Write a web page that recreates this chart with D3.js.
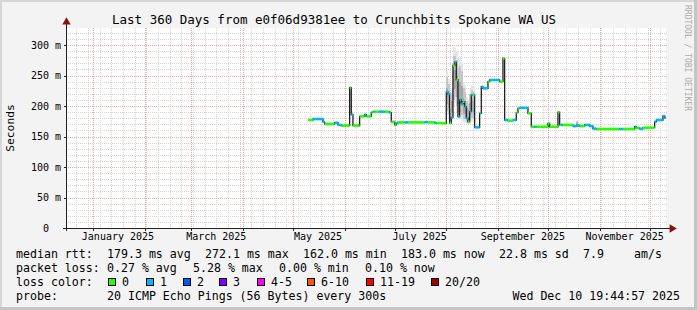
<!DOCTYPE html>
<head>
  <meta charset="utf-8">
  <script src="https://d3js.org/d3.v7.min.js"></script>
  <style>
    body { margin: 0; background: #f3f3f3; }
    text { font-family: "DejaVu Sans Mono", monospace; fill: #000; white-space: pre; }
  </style>
</head>
<body>
  <div id="graph"></div>
  <script>
    // ---- data ----
    var sampleDates = ["2025-05-10","2025-05-13","2025-05-19","2025-05-20","2025-05-26","2025-05-28","2025-05-30",
      "2025-06-04","2025-06-05","2025-06-06","2025-06-10","2025-06-13","2025-06-14","2025-06-17","2025-06-18",
      "2025-06-19","2025-06-22","2025-06-25","2025-06-28","2025-06-29","2025-07-01","2025-07-02","2025-07-03",
      "2025-07-07","2025-07-09","2025-07-19","2025-07-21","2025-07-25","2025-07-26","2025-07-30","2025-08-01",
      "2025-08-02","2025-08-03","2025-08-04","2025-08-05","2025-08-06","2025-08-07","2025-08-08","2025-08-09",
      "2025-08-10","2025-08-11","2025-08-12","2025-08-13","2025-08-14","2025-08-15","2025-08-16","2025-08-17",
      "2025-08-18","2025-08-21","2025-08-22","2025-08-23","2025-08-26","2025-08-27","2025-09-02","2025-09-04",
      "2025-09-05","2025-09-07","2025-09-10","2025-09-12","2025-09-13","2025-09-14","2025-09-19","2025-09-21",
      "2025-09-23","2025-09-24","2025-10-01","2025-10-02","2025-10-07","2025-10-08","2025-10-09","2025-10-10",
      "2025-10-16","2025-10-18","2025-10-20","2025-10-23","2025-10-26","2025-10-28","2025-10-30","2025-11-13",
      "2025-11-15","2025-11-22","2025-11-23","2025-11-25","2025-11-27","2025-12-04","2025-12-05","2025-12-09",
      "2025-12-10"];
    // median rtt in ms
    var medianRtt = [177,178.7,174,170.5,172.6,169,168,
      230,186,168,183,186,183,189.5,190.7,
      190.7,190.7,190.7,189,174,169,171.6,173,
      173,173,173.5,173,172.5,172,171.6,223,
      220,172,181,267,272,243,182.5,210,
      204,207,199,180,174,190.7,218,218,
      165,188,231.6,229,240,242.6,240,278,
      177,176,177,189,196,197,188,166,
      166,166,171.6,166,190,169,169,169,
      167,168,167,169,167,163,162.3,162.3,
      162.3,166,164,162.5,164.5,174,177,183.6,
      181];
    // lost pings out of 20
    var lossCount = [0,1,1,0,1,1,0,
      0,1,0,0,1,0,0,1,
      0,1,0,1,0,0,1,0,
      1,0,1,0,1,0,0,1,
      1,0,1,0,1,0,1,1,
      1,0,1,1,0,1,1,0,
      1,1,1,1,0,1,0,0,
      1,0,1,0,0,1,0,0,
      1,0,0,0,0,0,1,0,
      1,1,0,1,1,1,0,1,
      0,1,0,1,0,1,1,1,
      1];

    // smoke (spread of the pings) where it is visible
    var smokeDates = ["2025-08-01","2025-08-02","2025-08-03","2025-08-04","2025-08-05","2025-08-06","2025-08-07",
      "2025-08-08","2025-08-09","2025-08-10","2025-08-11","2025-08-12","2025-08-13","2025-08-14","2025-08-15",
      "2025-08-16","2025-08-17","2025-10-18"];
    var smokeLow = [185,180,172,175,200,205,190,178,180,175,172,172,170,170,172,175,172,168];
    var smokeHigh = [258,245,200,230,297,295,290,278,280,272,240,232,215,210,228,235,232,176];

    var yTicks = [0, 50, 100, 150, 200, 250, 300];

    var lossLabels = ["0", "1", "2", "3", "4-5", "6-10", "11-19", "20/20"];
    var lossColors = ["#26ff00", "#00b8ff", "#0059ff", "#7e00ff", "#ff00ff", "#ff5500", "#ff0000", "#a10000"];

    var rttLine = ["median rtt:", "179.3 ms avg", "272.1 ms max", "162.0 ms min", "183.0 ms now", "22.8 ms sd", "7.9", "am/s"];
    var lossLine = ["packet loss:", "0.27 % avg", "5.28 % max", "0.00 % min", "0.10 % now"];

    // ---- layout ----
    var width = 697, height = 310;
    var pLeft = 66, pRight = 666, pTop = 28, pBottom = 228;
    var parse = d3.timeParse("%Y-%m-%d");
    var start = new Date(2024, 11, 15, 19, 44, 57);
    var end = new Date(2025, 11, 10, 19, 44, 57);

    var svg = d3.select("#graph").append("svg")
      .attr("width", width)
      .attr("height", height);

    svg.append("rect").attr("width", width).attr("height", height).attr("fill", "#f3f3f3");
    // frame shades
    svg.append("rect").attr("x", 0).attr("y", 0).attr("width", width).attr("height", 2).attr("fill", "#d6d6d6");
    svg.append("rect").attr("x", 0).attr("y", 0).attr("width", 2).attr("height", height).attr("fill", "#d6d6d6");
    svg.append("rect").attr("x", 0).attr("y", height - 3).attr("width", width).attr("height", 3).attr("fill", "#c4c4c4");
    svg.append("rect").attr("x", width - 3).attr("y", 0).attr("width", 3).attr("height", height).attr("fill", "#c4c4c4");

    var x = d3.scaleTime().domain([start, end]).range([pLeft, pRight]);
    var y = d3.scaleLinear().domain([0, 327.87]).range([pBottom, pTop]);

    svg.append("rect").attr("x", pLeft).attr("y", pTop).attr("width", pRight - pLeft).attr("height", pBottom - pTop).attr("fill", "#fff");

    // grid
    var grid = svg.append("g").attr("shape-rendering", "crispEdges").attr("stroke-width", 1).attr("stroke-dasharray", "1,1");
    var weeks = d3.timeSunday.range(start, end);
    grid.selectAll(".vminor").data(weeks).enter().append("line")
      .attr("x1", d => Math.round(x(d)) + 0.5).attr("x2", d => Math.round(x(d)) + 0.5)
      .attr("y1", pTop).attr("y2", pBottom).attr("stroke", "#d4d4d4");
    d3.range(10, 330, 10).filter(v => v % 50).forEach(function(v) {
      grid.append("line").attr("x1", pLeft).attr("x2", pRight + 2)
        .attr("y1", Math.round(y(v)) + 0.5).attr("y2", Math.round(y(v)) + 0.5).attr("stroke", "#d4d4d4");
    });
    var months = d3.timeMonth.range(start, end);
    grid.selectAll(".vmajor").data(months).enter().append("line")
      .attr("x1", d => Math.round(x(d)) + 0.5).attr("x2", d => Math.round(x(d)) + 0.5)
      .attr("y1", pTop).attr("y2", pBottom).attr("stroke", "#f2a4a4");
    grid.selectAll(".hmajor").data(yTicks.slice(1)).enter().append("line")
      .attr("x1", pLeft).attr("x2", pRight + 2)
      .attr("y1", d => Math.round(y(d)) + 0.5).attr("y2", d => Math.round(y(d)) + 0.5)
      .attr("stroke", "#f2a4a4");

    // smoke
    var dayW = x(d3.timeDay.offset(parse("2025-08-01"), 1)) - x(parse("2025-08-01"));
    var smoke = svg.append("g").attr("shape-rendering", "crispEdges");
    smokeDates.forEach(function(d, i) {
      var x0 = x(parse(d)), lo = smokeLow[i], hi = smokeHigh[i];
      var c = x0 + dayW / 2;
      smoke.append("rect").attr("x", x0).attr("width", dayW)
        .attr("y", y(hi)).attr("height", y(lo) - y(hi)).attr("fill", "#e6e6e6");
      smoke.append("rect").attr("x", c - 1).attr("width", 2)
        .attr("y", y(lo + (hi - lo) * 0.85)).attr("height", y(lo + (hi - lo) * 0.1) - y(lo + (hi - lo) * 0.85)).attr("fill", "#c6c6c6");
      smoke.append("rect").attr("x", c - 1).attr("width", 2)
        .attr("y", y(lo + (hi - lo) * 0.6)).attr("height", y(lo + (hi - lo) * 0.25) - y(lo + (hi - lo) * 0.6)).attr("fill", "#a6a6a6");
    });

    // median line
    var pts = sampleDates.map((d, i) => ({ t: parse(d), v: medianRtt[i], loss: lossCount[i] }));
    var line = d3.line()
      .x(d => x(d.t))
      .y(d => y(d.v))
      .curve(d3.curveStepAfter);
    var lastEnd = { t: d3.timeHour.offset(pts[pts.length - 1].t, 18), v: pts[pts.length - 1].v };
    svg.append("path")
      .attr("d", line(pts.concat([lastEnd])))
      .attr("fill", "none")
      .attr("stroke", "#202020")
      .attr("stroke-width", 1.3);

    function bucket(n) {
      if (n <= 3) return n;
      if (n <= 5) return 4;
      if (n <= 10) return 5;
      if (n <= 19) return 6;
      return 7;
    }
    svg.selectAll(".seg").data(pts).enter().append("line")
      .attr("x1", d => x(d.t))
      .attr("x2", (d, i) => x(i < pts.length - 1 ? pts[i + 1].t : lastEnd.t))
      .attr("y1", d => y(d.v)).attr("y2", d => y(d.v))
      .attr("stroke", d => lossColors[bucket(d.loss)])
      .attr("stroke-width", 2.6);

    // axes
    var axis = svg.append("g").attr("shape-rendering", "crispEdges").attr("stroke", "#202020");
    axis.append("line").attr("x1", pLeft - 3).attr("x2", pRight + 5).attr("y1", pBottom + 0.5).attr("y2", pBottom + 0.5);
    axis.append("line").attr("x1", pLeft + 0.5).attr("x2", pLeft + 0.5).attr("y1", pBottom + 3).attr("y2", pTop - 5);
    axis.selectAll(".tick").data(months).enter().append("line")
      .attr("x1", d => Math.round(x(d)) + 0.5).attr("x2", d => Math.round(x(d)) + 0.5)
      .attr("y1", pBottom).attr("y2", pBottom + 3);
    axis.selectAll(".ytick").data(yTicks).enter().append("line")
      .attr("x1", pLeft - 2).attr("x2", pLeft)
      .attr("y1", d => Math.round(y(d)) + 0.5).attr("y2", d => Math.round(y(d)) + 0.5);
    svg.append("path").attr("d", d3.symbol(d3.symbolTriangle, 30)()).attr("fill", "#8b0e0e")
      .attr("transform", "translate(" + (pLeft + 0.5) + "," + (pTop - 6) + ")");
    svg.append("path").attr("d", d3.symbol(d3.symbolTriangle, 30)()).attr("fill", "#8b0e0e")
      .attr("transform", "translate(" + (pRight + 6) + "," + (pBottom + 0.5) + ") rotate(90)");

    // tick labels
    svg.selectAll(".ylab").data(yTicks).enter().append("text")
      .attr("x", d => d === 0 ? 49 : 61)
      .attr("y", d => y(d) + 3.5)
      .attr("text-anchor", "end")
      .style("font-size", "10px")
      .text(d => d === 0 ? "0" : d + " m");
    var labelMonths = d3.timeMonth.every(2).range(start, end);
    svg.selectAll(".xlab").data(labelMonths).enter().append("text")
      .attr("x", d => x(d3.timeDay.offset(d, 15)))
      .attr("y", 240)
      .attr("text-anchor", "middle")
      .style("font-size", "10px")
      .text(d3.timeFormat("%B %Y"));

    // titles
    svg.append("text").attr("x", 112).attr("y", 23.5).style("font-size", "12.5px")
      .text("Last 360 Days from e0f06d9381ee to Crunchbits Spokane WA US");
    svg.append("text").attr("transform", "translate(14,128) rotate(-90)")
      .attr("text-anchor", "middle").style("font-size", "11.3px").text("Seconds");
    svg.append("text").attr("transform", "translate(685,5) rotate(90)")
      .style("font-size", "8px").style("fill", "#ababab").text("RRDTOOL / TOBI OETIKER");

    // legend
    var lx1 = [16, 107, 205, 303, 401, 499, 583, 634];
    rttLine.forEach(function(t, i) {
      svg.append("text").attr("x", lx1[i]).attr("y", 257.5).style("font-size", "11.6px").text(t);
    });
    var lx2 = [16, 107, 193, 279, 365];
    lossLine.forEach(function(t, i) {
      svg.append("text").attr("x", lx2[i]).attr("y", 271.5).style("font-size", "11.6px").text(t);
    });
    svg.append("text").attr("x", 16).attr("y", 285.5).style("font-size", "11.6px").text("loss color:");
    var boxX = [108, 146, 183, 219, 257, 307, 366, 431];
    lossLabels.forEach(function(l, i) {
      svg.append("rect").attr("x", boxX[i] + 0.5).attr("y", 278.5).attr("width", 7).attr("height", 7)
        .attr("fill", lossColors[i]).attr("stroke", "#000").attr("shape-rendering", "crispEdges");
      svg.append("text").attr("x", boxX[i] + 14).attr("y", 285.5).style("font-size", "11.6px").text(l);
    });
    svg.append("text").attr("x", 16).attr("y", 299.5).style("font-size", "11.6px").text("probe:");
    svg.append("text").attr("x", 107).attr("y", 299.5).style("font-size", "11.6px")
      .text("20 ICMP Echo Pings (56 Bytes) every 300s");
    svg.append("text").attr("x", 680).attr("y", 299.5).attr("text-anchor", "end").style("font-size", "11.6px")
      .text("Wed Dec 10 19:44:57 2025");
  </script>
</body>
